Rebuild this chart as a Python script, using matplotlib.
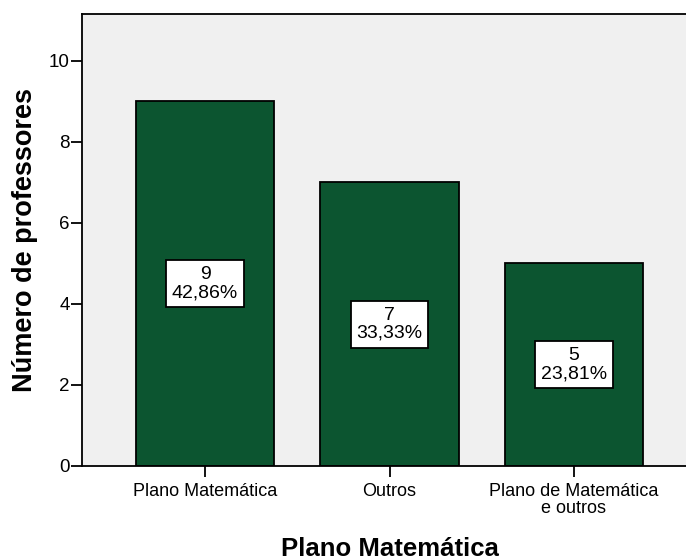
import matplotlib
matplotlib.use("Agg")
import matplotlib.pyplot as plt

plt.rcParams['font.family'] = ['Liberation Sans', 'DejaVu Sans']

# frequency table
categorias = ["Plano Matemática", "Outros", "Plano de Matemática\ne outros"]
contagens = [9, 7, 5]
percentagens = ["42,86%", "33,33%", "23,81%"]

fig = plt.figure(figsize=(6.86, 5.6), dpi=100)
# the plot frame runs past the right edge of the figure
ax = fig.add_axes([82/686, 94/560, 615/686, 452/560])
ax.set_facecolor("#F0F0F0")

x = list(range(len(categorias)))
ax.bar(x, contagens, width=0.75, color="#0C5530", edgecolor="black", linewidth=1.3, zorder=2)

for xi, n, p in zip(x, contagens, percentagens):
    ax.text(xi, n / 2, f"{n}\n{p}", ha="center", va="center", fontsize=14,
            linespacing=1.1, zorder=3,
            bbox=dict(boxstyle="square,pad=0.3", facecolor="white", edgecolor="black", linewidth=1.3))

ax.set_xlim(-0.667, 2.667)
ax.set_ylim(0, 11.16)
ax.set_yticks([0, 2, 4, 6, 8, 10])
ax.set_xticks(x)
ax.set_xticklabels(categorias, fontsize=13, linespacing=1.0)
ax.tick_params(axis="y", labelsize=13.5, length=8, width=1.3, pad=1)
ax.tick_params(axis="x", length=8, width=1.3, pad=4)

for s in ax.spines.values():
    s.set_linewidth(1.3)

ax.set_ylabel("Número de professores", fontsize=19.5, fontweight="bold", labelpad=8)
ax.set_xlabel("Plano Matemática", fontsize=18.5, fontweight="bold", labelpad=15)

fig.savefig("out.png", dpi=100)
